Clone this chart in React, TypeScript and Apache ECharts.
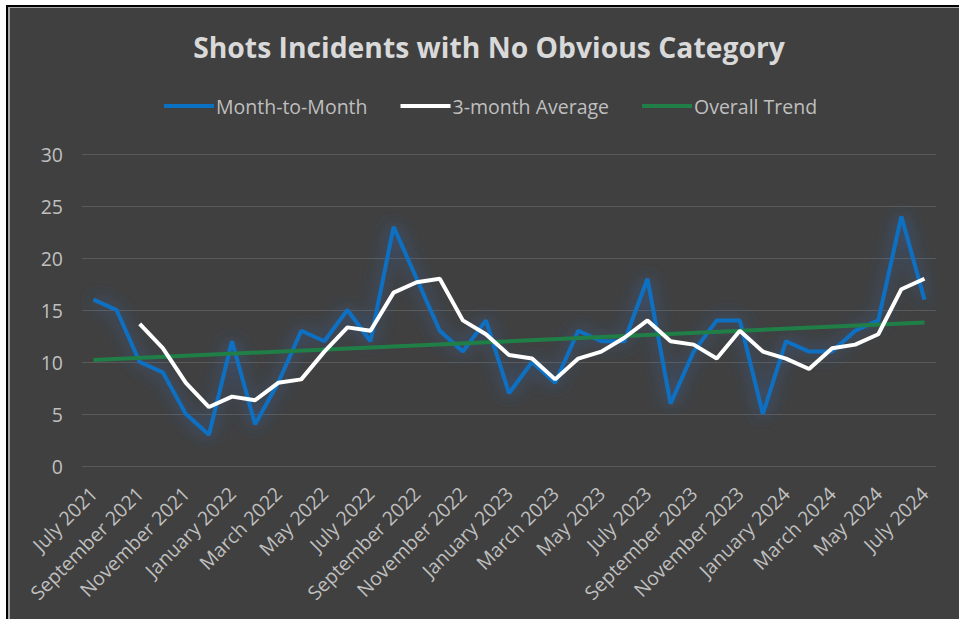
import React, { useEffect, useRef } from "react";
import * as echarts from "echarts";

const months: string[] = [
  "July 2021", "August 2021", "September 2021", "October 2021", "November 2021", "December 2021",
  "January 2022", "February 2022", "March 2022", "April 2022", "May 2022", "June 2022",
  "July 2022", "August 2022", "September 2022", "October 2022", "November 2022", "December 2022",
  "January 2023", "February 2023", "March 2023", "April 2023", "May 2023", "June 2023",
  "July 2023", "August 2023", "September 2023", "October 2023", "November 2023", "December 2023",
  "January 2024", "February 2024", "March 2024", "April 2024", "May 2024", "June 2024",
  "July 2024",
];

const monthToMonth: number[] = [
  16, 15, 10, 9, 5, 3, 12, 4, 8, 13, 12, 15, 12, 23, 18, 13, 11, 14,
  7, 10, 8, 13, 12, 12, 18, 6, 11, 14, 14, 5, 12, 11, 11, 13, 14, 24, 16,
];

const threeMonthAverage: (number | null)[] = [
  null, null, 13.67, 11.33, 8, 5.67, 6.67, 6.33, 8, 8.33, 11, 13.33, 13, 16.67,
  17.67, 18, 14, 12.67, 10.67, 10.33, 8.33, 10.33, 11, 12.33, 14, 12, 11.67,
  10.33, 13, 11, 10.33, 9.33, 11.33, 11.67, 12.67, 17, 18,
];

const trendStart = 10.2;
const trendEnd = 13.8;
const overallTrend: (number | null)[] = months.map((_, i) =>
  i === 0 ? trendStart : i === months.length - 1 ? trendEnd : null
);

const yTicks = { min: 0, max: 30, interval: 5 };

const FONT = "'Open Sans', sans-serif";
const BLUE = "#0a70c2";
const GREEN = "#1f7f47";

export default function App() {
  const ref = useRef<HTMLDivElement>(null);

  useEffect(() => {
    if (!ref.current) return;
    const chart = echarts.init(ref.current, undefined, { renderer: "svg" });
    chart.setOption({
      animation: false,
      backgroundColor: "transparent",
      title: {
        text: "Shots Incidents with No Obvious Category",
        left: 484,
        textAlign: "center",
        top: 28,
        textStyle: { color: "#d9d9d9", fontFamily: FONT, fontSize: 28.3, fontWeight: 700 },
      },
      legend: {
        top: 96,
        left: 164,
        padding: 0,
        icon: "rect",
        itemWidth: 50,
        itemHeight: 4,
        itemGap: 33,
        textStyle: { color: "#bfbfbf", fontFamily: FONT, fontSize: 19.5, padding: [0, 0, 0, -3] },
        data: [
          { name: "Month-to-Month", itemStyle: { color: BLUE } },
          { name: "3-month Average", itemStyle: { color: "#ffffff" } },
          { name: "Overall Trend", itemStyle: { color: GREEN } },
        ],
      },
      grid: { left: 82, right: 23, top: 154, bottom: 153, containLabel: false },
      xAxis: {
        type: "category",
        data: months,
        boundaryGap: true,
        axisLine: { show: false },
        axisTick: { show: false },
        axisLabel: {
          interval: 1,
          rotate: 45,
          color: "#bfbfbf",
          fontFamily: FONT,
          fontSize: 19.5,
          margin: 24,
        },
      },
      yAxis: {
        type: "value",
        min: yTicks.min,
        max: yTicks.max,
        interval: yTicks.interval,
        axisLine: { show: false },
        axisTick: { show: false },
        splitLine: { lineStyle: { color: "#5a5a5a", width: 1 } },
        axisLabel: { color: "#bfbfbf", fontFamily: FONT, fontSize: 19.5, margin: 19 },
      },
      series: [
        {
          name: "Month-to-Month",
          type: "line",
          data: monthToMonth,
          symbol: "none",
          lineStyle: {
            color: BLUE,
            width: 4,
            shadowColor: "rgba(50,110,200,0.75)",
            shadowBlur: 18,
          },
          itemStyle: { color: BLUE },
          z: 2,
        },
        {
          name: "3-month Average",
          type: "line",
          data: threeMonthAverage,
          symbol: "none",
          lineStyle: { color: "#ffffff", width: 4 },
          itemStyle: { color: "#ffffff" },
          z: 4,
        },
        {
          name: "Overall Trend",
          type: "line",
          data: overallTrend,
          connectNulls: true,
          symbol: "none",
          lineStyle: { color: GREEN, width: 4 },
          itemStyle: { color: GREEN },
          z: 3,
        },
      ],
    });
    return () => chart.dispose();
  }, []);

  return (
    <div style={{ position: "fixed", left: 0, top: 0, width: 959, height: 619, background: "#ffffff", overflow: "hidden" }}>
      <div
        style={{
          position: "absolute",
          left: 6,
          top: 5,
          width: 953,
          height: 614,
          background: "#404040",
          borderLeft: "2px solid #000",
          borderTop: "2px solid #000",
          boxSizing: "border-box",
        }}
      >
        <div
          style={{
            position: "absolute",
            left: 0,
            top: 0,
            right: 0,
            bottom: 0,
            borderLeft: "2px solid #a6a6a6",
            borderTop: "1px solid #a6a6a6",
          }}
        />
      </div>
      <div ref={ref} style={{ position: "absolute", left: 0, top: 0, width: 959, height: 619 }} />
    </div>
  );
}
